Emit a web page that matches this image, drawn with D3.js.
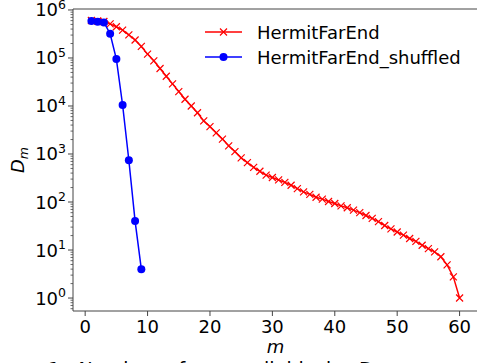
<!DOCTYPE html>
<meta charset="utf-8">
<script src="https://d3js.org/d3.v7.min.js"></script>
<style>
  body { margin: 0; background: #fff; }
  text { font-family: "DejaVu Sans", sans-serif; }
</style>
<div id="chart"></div>
<script>
// data (log10 of D_m)
var mRed = d3.range(1, 61);
var logRed = [5.78, 5.77, 5.76, 5.71, 5.65, 5.58, 5.48, 5.375, 5.24, 5.08,
              4.94, 4.78, 4.62, 4.46, 4.30, 4.14, 4.0, 3.86, 3.69, 3.57,
              3.44, 3.31, 3.17, 3.05, 2.92, 2.82, 2.72, 2.64, 2.56, 2.51,
              2.46, 2.41, 2.35, 2.28, 2.21, 2.16, 2.10, 2.06, 2.01, 1.97,
              1.92, 1.88, 1.83, 1.78, 1.72, 1.66, 1.59, 1.51, 1.44, 1.375,
              1.31, 1.24, 1.18, 1.10, 1.03, 0.96, 0.86, 0.69, 0.44, 0.0];
var mBlue = d3.range(1, 10);
var blueVals = [590000, 570000, 550000, 320000, 95000, 10500, 740, 40, 4];
var xTicks = [0, 10, 20, 30, 40, 50, 60];
var yExps = [0, 1, 2, 3, 4, 5, 6];
var seriesNames = ["HermitFarEnd", "HermitFarEnd_shuffled"];

var redVals = logRed.map(function(v) { return Math.pow(10, v); });

var W = 477, H = 363;
var pLeft = 73, pRight = 478, pTop = 9, pBottom = 311;
var fs = 18;

var svg = d3.select("#chart").append("svg")
  .attr("width", W).attr("height", H);

var x = d3.scaleLinear().domain([-1.95, 62.95]).range([pLeft, pRight]);
var y = d3.scaleLog().domain([Math.pow(10, -0.27), Math.pow(10, 6.02)]).range([pBottom, pTop]);

// spines
svg.append("path")
  .attr("d", "M" + pLeft + "," + pBottom + "V" + pTop + "H" + pRight + "V" + pBottom + "Z")
  .attr("fill", "none").attr("stroke", "#444").attr("stroke-width", 1);

// x axis
var gx = svg.append("g");
xTicks.forEach(function(t) {
  gx.append("line").attr("x1", x(t)).attr("x2", x(t))
    .attr("y1", pBottom).attr("y2", pBottom + 5).attr("stroke", "#444");
  gx.append("text").attr("x", x(t)).attr("y", 333)
    .attr("text-anchor", "middle").attr("font-size", fs).text(t);
});
svg.append("text").attr("x", (pLeft + pRight) / 2).attr("y", 353)
  .attr("text-anchor", "middle").attr("font-size", fs)
  .attr("font-style", "italic").text("m");

// y axis, major and minor log ticks
var gy = svg.append("g");
yExps.forEach(function(e) {
  var v = Math.pow(10, e);
  gy.append("line").attr("x1", pLeft - 5).attr("x2", pLeft)
    .attr("y1", y(v)).attr("y2", y(v)).attr("stroke", "#444");
  var t = gy.append("text").attr("x", pLeft - 7).attr("y", y(v) + 6.5)
    .attr("text-anchor", "end").attr("font-size", fs);
  t.append("tspan").text("10");
  t.append("tspan").attr("dy", -7.5).attr("font-size", 12.5).text(e);
});
d3.range(-1, 7).forEach(function(e) {
  d3.range(2, 10).forEach(function(k) {
    var v = k * Math.pow(10, e);
    if (y(v) < pTop || y(v) > pBottom) return;
    gy.append("line").attr("x1", pLeft - 2.5).attr("x2", pLeft)
      .attr("y1", y(v)).attr("y2", y(v)).attr("stroke", "#444").attr("stroke-width", 0.8);
  });
});
svg.append("text")
  .attr("transform", "translate(24," + (pTop + pBottom) / 2 + ") rotate(-90)")
  .attr("text-anchor", "middle").attr("font-size", fs).attr("font-style", "italic")
  .html('D<tspan dy="4" font-size="12.5">m</tspan>');

var line = d3.line().x(function(d) { return x(d[0]); }).y(function(d) { return y(d[1]); });

var red = mRed.map(function(m, i) { return [m, redVals[i]]; });
var blue = mBlue.map(function(m, i) { return [m, blueVals[i]]; });

function cross(g, cx, cy, s, color) {
  g.append("path")
    .attr("d", "M" + (cx - s) + "," + (cy - s) + "L" + (cx + s) + "," + (cy + s) +
               "M" + (cx - s) + "," + (cy + s) + "L" + (cx + s) + "," + (cy - s))
    .attr("stroke", color).attr("stroke-width", 1.2);
}

svg.append("path").datum(red).attr("d", line)
  .attr("fill", "none").attr("stroke", "red").attr("stroke-width", 1.5);
var gr = svg.append("g");
red.forEach(function(d) { cross(gr, x(d[0]), y(d[1]), 3.5, "red"); });

svg.append("path").datum(blue).attr("d", line)
  .attr("fill", "none").attr("stroke", "blue").attr("stroke-width", 1.5);
svg.append("g").selectAll("circle").data(blue).join("circle")
  .attr("cx", function(d) { return x(d[0]); })
  .attr("cy", function(d) { return y(d[1]); })
  .attr("r", 4).attr("fill", "blue");

// legend
var lg = svg.append("g");
var rows = [32, 57];
lg.append("line").attr("x1", 205).attr("x2", 242).attr("y1", rows[0]).attr("y2", rows[0])
  .attr("stroke", "red").attr("stroke-width", 1.5);
cross(lg, 223.5, rows[0], 3.5, "red");
lg.append("line").attr("x1", 205).attr("x2", 242).attr("y1", rows[1]).attr("y2", rows[1])
  .attr("stroke", "blue").attr("stroke-width", 1.5);
lg.append("circle").attr("cx", 223.5).attr("cy", rows[1]).attr("r", 4).attr("fill", "blue");
seriesNames.forEach(function(n, i) {
  lg.append("text").attr("x", 257).attr("y", rows[i] + 6.5).attr("font-size", fs).text(n);
});

// caption, cut off at the bottom of the page
svg.append("text").attr("x", -22).attr("y", 376)
  .attr("font-family", "Liberation Serif, serif").attr("font-size", 19)
  .attr("word-spacing", 6)
  .text("Figure 1: Number of non-null blocks D");
</script>
